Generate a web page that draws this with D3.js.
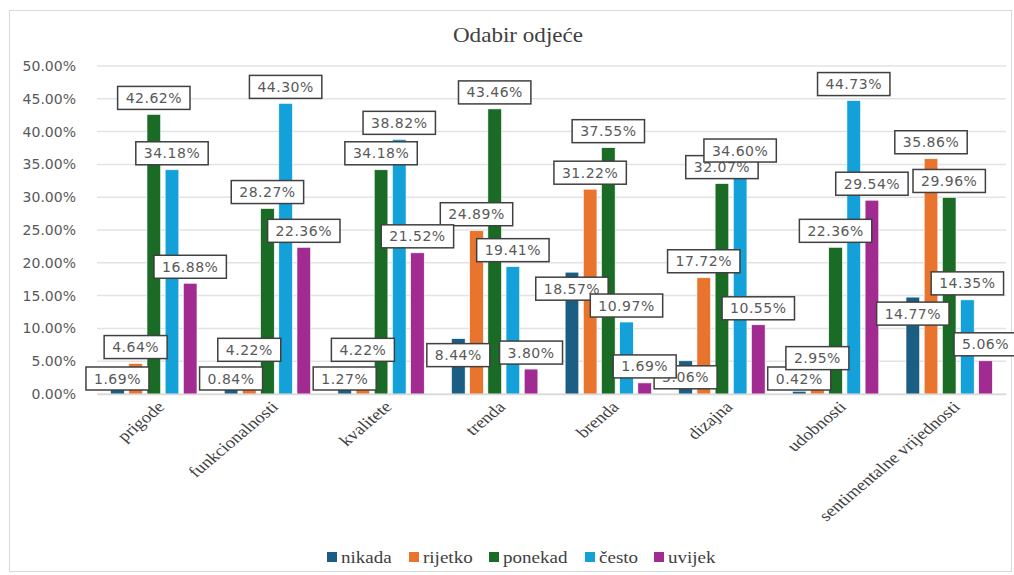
<!DOCTYPE html>
<html>
<head>
<meta charset="utf-8">
<script src="https://cdn.jsdelivr.net/npm/d3@7"></script>
<style>
  body { margin: 0; background: #fff; }
</style>
</head>
<body>
<div id="chart"></div>
<script>
// podaci
var categories = ["prigode", "funkcionalnosti", "kvalitete", "trenda", "brenda", "dizajna", "udobnosti", "sentimentalne vrijednosti"]
var seriesNames = ["nikada", "rijetko", "ponekad", "često", "uvijek"]
var nikada  = [1.69, 0.84, 1.27, 8.44, 18.57, 5.06, 0.42, 14.77]
var rijetko = [4.64, 4.22, 4.22, 24.89, 31.22, 17.72, 2.95, 35.86]
var ponekad = [42.62, 28.27, 34.18, 43.46, 37.55, 32.07, 22.36, 29.96]
var cesto   = [34.18, 44.30, 38.82, 19.41, 10.97, 34.60, 44.73, 14.35]
var uvijek  = [16.88, 22.36, 21.52, 3.80, 1.69, 10.55, 29.54, 5.06]
var yTicks = [0, 5, 10, 15, 20, 25, 30, 35, 40, 45, 50]

var colors = ["#1b5e84", "#e9742e", "#1a6b25", "#14a0d9", "#a12b91"]
// nikada labels sit inside the bar end, the rest above it
var labelInside = [true, false, false, false, false]

var values = [nikada, rijetko, ponekad, cesto, uvijek]

var W = 1014, H = 575
var margin = {left: 97, right: 8, top: 66, bottom: 181}
var stretch = 1.18  // the picture is a bit wider than tall

var svg = d3.select("#chart").append("svg")
  .attr("width", W).attr("height", H)

// okvir
svg.append("rect")
  .attr("x", 9.5).attr("y", 10.5)
  .attr("width", W - 12).attr("height", H - 14)
  .attr("fill", "#fff").attr("stroke", "#d9d9d9").attr("stroke-width", 1)

svg.append("g")
  .attr("transform", "translate(518,42) scale(1.1,1)")
  .append("text")
  .attr("text-anchor", "middle")
  .style("font-family", "Liberation Serif")
  .style("font-size", "21px")
  .style("fill", "#404040")
  .text("Odabir odjeće")

var x0 = d3.scaleBand().domain(categories)
  .range([margin.left, W - margin.right])
  .paddingInner(0.24).paddingOuter(0.12)
var x1 = d3.scaleBand().domain(d3.range(seriesNames.length))
  .range([0, x0.bandwidth()])
  .paddingInner(0.25)
var y = d3.scaleLinear().domain([0, 50]).range([H - margin.bottom, margin.top])

// mreža
svg.append("g").selectAll("line")
  .data(yTicks).enter().append("line")
  .attr("x1", margin.left).attr("x2", W - margin.right)
  .attr("y1", d => y(d)).attr("y2", d => y(d))
  .attr("stroke", "#e3e3e3").attr("stroke-width", 1.5)

var yAxis = svg.append("g")
  .attr("transform", "translate(" + (margin.left - 18) + ",0)")
  .call(d3.axisLeft(y).tickValues(yTicks).tickSize(0).tickFormat(d => d.toFixed(2) + "%"))
yAxis.select(".domain").remove()
yAxis.selectAll("text")
  .style("font-family", "DejaVu Sans")
  .style("font-size", "14px")
  .style("fill", "#595959")

// stupci
var rows = []
seriesNames.forEach(function(s, si){
  categories.forEach(function(c, ci){
    rows.push({cat: c, ci: ci, si: si, v: values[si][ci]})
  })
})

svg.append("g").selectAll("rect")
  .data(rows).enter().append("rect")
  .attr("x", d => x0(d.cat) + x1(d.si))
  .attr("y", d => y(d.v))
  .attr("width", x1.bandwidth())
  .attr("height", d => y(0) - y(d.v))
  .attr("fill", d => colors[d.si])
  .attr("stroke", "#fff").attr("stroke-width", 0.6)

// oznake (po serijama, kao u Excelu)
var boxH = 23
var lab = svg.append("g").selectAll("g")
  .data(rows).enter().append("g")
  .attr("transform", function(d){
    var cx = x0(d.cat) + x1(d.si) + x1.bandwidth() / 2
    var cy
    if (labelInside[d.si]) {
      cy = Math.min(y(d.v) + 5 + boxH / 2, y(0) - 4 - boxH / 2)
    } else {
      cy = y(d.v) - 5 - boxH / 2
    }
    return "translate(" + cx + "," + cy + ")"
  })

lab.append("text")
  .attr("text-anchor", "middle")
  .attr("dy", "0.36em")
  .style("font-family", "DejaVu Sans")
  .style("font-size", "14px")
  .style("letter-spacing", "0.5px")
  .style("fill", "#595959")
  .text(d => d.v.toFixed(2) + "%")

lab.each(function(){
  var g = d3.select(this)
  var bb = g.select("text").node().getBBox()
  g.insert("rect", "text")
    .attr("x", -bb.width / 2 - 8).attr("y", -boxH / 2)
    .attr("width", bb.width + 16).attr("height", boxH)
    .attr("fill", "#fff").attr("stroke", "#404040").attr("stroke-width", 1.5)
})

// x oznake
var xAxis = svg.append("g")
  .attr("transform", "translate(0," + y(0) + ")")
  .call(d3.axisBottom(x0).tickSize(0))
xAxis.select(".domain").attr("stroke", "#d9d9d9").attr("stroke-width", 1.5)
xAxis.selectAll("text")
  .style("font-family", "Liberation Serif")
  .style("font-size", "16px")
  .style("fill", "#404040")
  .attr("text-anchor", "end")
  .attr("transform", "translate(7,10) scale(" + stretch + ",1) rotate(-45)")
  .attr("dy", "0.35em")
  .attr("y", 0)

// legenda
var legendX = [327, 409, 489, 585, 654]
var leg = svg.append("g").selectAll("g")
  .data(seriesNames).enter().append("g")
  .attr("transform", (d, i) => "translate(" + legendX[i] + ",557)")
leg.append("rect")
  .attr("x", 0).attr("y", -5).attr("width", 10).attr("height", 10)
  .attr("fill", (d, i) => colors[i])
leg.append("g")
  .attr("transform", "translate(14,0) scale(1.12,1)")
  .append("text")
  .attr("dy", "0.35em")
  .style("font-family", "Liberation Serif")
  .style("font-size", "17px")
  .style("fill", "#404040")
  .text(d => d)
</script>
</body>
</html>
